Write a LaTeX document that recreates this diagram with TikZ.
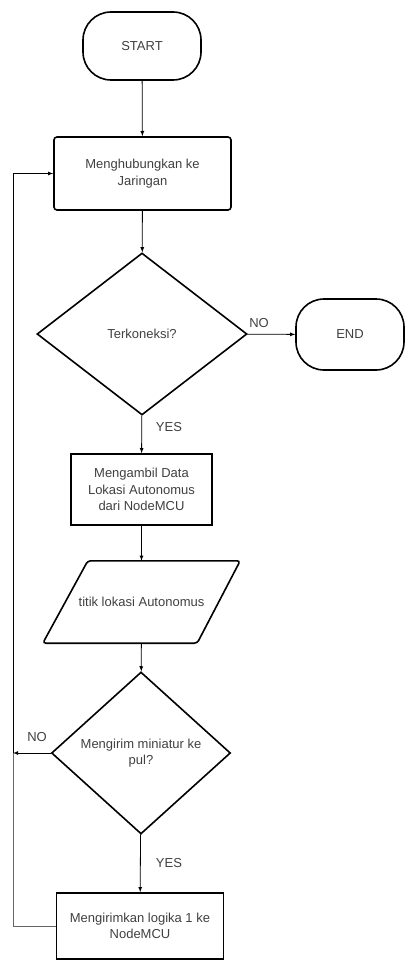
\documentclass[tikz,border=0pt]{standalone}
\usepackage{fontspec}
\setmainfont{Liberation Sans}
\usetikzlibrary{arrows,shapes.geometric}

\begin{document}
\begin{tikzpicture}[x=1pt,y=-1pt, every node/.style={font=\fontsize{13}{16.5}\selectfont, text=black!75, align=center, inner sep=0pt},
  terminal/.style={draw=black, line width=1.6pt, rounded corners=28pt},
  procbox/.style={draw=black, line width=1.6pt},
  decision/.style={draw=black, diamond, line width=1.6pt},
  iobox/.style={draw=black, line width=1.6pt, rounded corners=3pt},
  flow/.style={line width=0.8pt, -latex},
  loop/.style={line width=0.8pt, black!60}]
\useasboundingbox (0,0) rectangle (405,960);

\node[terminal, minimum width=118pt, minimum height=68pt] (start) at (142,46) {START};
\node[procbox, rounded corners=3pt, minimum width=177pt, minimum height=73pt] (connect) at (142.5,173.5) {Menghubungkan ke\\Jaringan};
\node[decision, minimum width=210pt, minimum height=162pt] (online) at (142,334) {Terkoneksi?};
\node[terminal, minimum width=108pt, minimum height=71pt] (end) at (350,334.5) {END};
\node[procbox, minimum width=141pt, minimum height=71pt] (fetch) at (141.5,489.5) {Mengambil Data\\Lokasi Autonomus\\dari NodeMCU};
\node[minimum width=197pt, minimum height=82pt] (loc) at (141.5,602) {titik lokasi Autonomus};
\node[decision, minimum width=179pt, minimum height=162pt] (send) at (141,753) {Mengirim miniatur ke\\pul?};
\node[procbox, minimum width=167pt, minimum height=66pt] (logic) at (140,926) {Mengirimkan logika 1 ke\\NodeMCU};

% data parallelogram
\draw[iobox] ([xshift=45pt]loc.north west) -- (loc.north east) -- ([xshift=-43pt]loc.south east) -- (loc.south west) -- cycle;

\node (no1) at (259,323) {NO};
\node (yes1) at (169,427) {YES};
\node (no2) at (37,737) {NO};
\node (yes2) at (169,863) {YES};

\coordinate (back) at (13,753);

\draw[flow] (start) -- (connect);
\draw[flow] (connect) -- (online);
\draw[flow] (online) -- (end);
\draw[flow] (online) -- (fetch);
\draw[flow] (fetch) -- (loc);
\draw[flow] (loc) -- (send);
\draw[flow] (send) -- (back);
\draw[flow] (send) -- (logic);
\draw[loop] (logic.west) -| (back);
\draw[loop, -latex, black] (back) |- (connect.west);
\end{tikzpicture}
\end{document}
